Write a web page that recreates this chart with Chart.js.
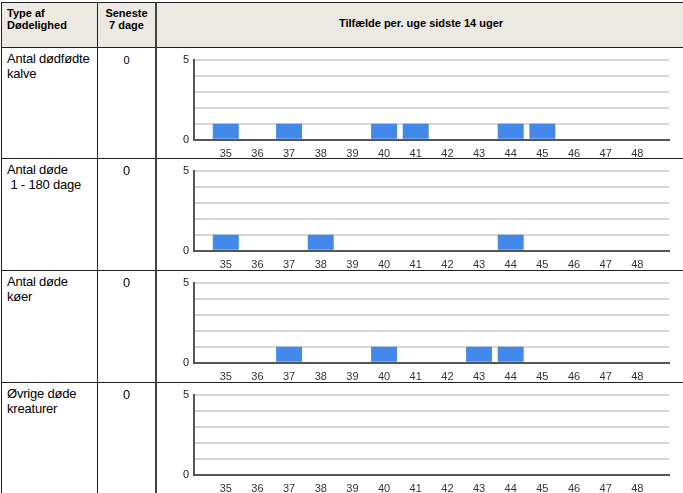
<!DOCTYPE html>
<html lang="da">
<head>
<meta charset="UTF-8" />
<script src="https://cdn.jsdelivr.net/npm/chart.js"></script>
<style>
  body { margin: 0; background: #fff; font-family: "Liberation Sans", Arial, sans-serif; overflow: hidden; }
  .cell { position: absolute; box-sizing: border-box; border: 1px solid #222; border-right: none; border-bottom: none; }
  .hd { background: #ebe9e1; font-size: 11px; font-weight: bold; }
  .txt { font-size: 13px; padding: 3px 0 0 5px; white-space: nowrap; letter-spacing: -0.2px; }
  .num { text-align: center; font-size: 13px; padding-top: 4px; }
  .chart { border-left: 2px solid #444; overflow: hidden; }
  canvas { position: absolute; left: 0; top: 0; }
</style>
</head>
<body>
<div id="grid"></div>
<script>
  const weeks = ['', '35', '36', '37', '38', '39', '40', '41', '42', '43', '44', '45', '46', '47', '48', ''];
  const doedfoedte = [null, 1, 0, 1, 0, 0, 1, 1, 0, 0, 1, 1, 0, 0, 0, null];
  const doede1til180 = [null, 1, 0, 0, 1, 0, 0, 0, 0, 0, 1, 0, 0, 0, 0, null];
  const doedeKoeer = [null, 0, 0, 1, 0, 0, 1, 0, 0, 1, 1, 0, 0, 0, 0, null];
  const oevrige = [null, 0, 0, 0, 0, 0, 0, 0, 0, 0, 0, 0, 0, 0, 0, null];
  const typeNames = ['Antal dødfødte<br>kalve', 'Antal døde<br>&nbsp;1 - 180 dage', 'Antal døde<br>køer', 'Øvrige døde<br>kreaturer'];
  const latest7 = ['0', '0', '0', '0'];
  const series = [doedfoedte, doede1til180, doedeKoeer, oevrige];

  const g = document.getElementById('grid');
  function cell(x, y, w, h, cls, html) {
    const d = document.createElement('div');
    d.className = 'cell ' + cls;
    Object.assign(d.style, { left: x + 'px', top: y + 'px', width: w + 'px', height: h + 'px' });
    d.innerHTML = html || '';
    g.appendChild(d);
    return d;
  }
  cell(1, 2, 96, 45, 'hd', '<div style="padding:4px 5px">Type af<br>Dødelighed</div>');
  cell(97, 2, 58, 45, 'hd', '<div style="text-align:center;padding-top:4px">Seneste<br>7 dage</div>');
  cell(155, 2, 540, 45, 'hd chart', '<div style="text-align:center;padding-top:14px;width:528px">Tilfælde per. uge sidste 14 uger</div>');

  const rowTops = [47, 158, 270, 382];
  series.forEach((vals, i) => {
    const y = rowTops[i], h = (rowTops[i + 1] || 494) - y;
    cell(1, y, 96, h, 'txt', typeNames[i]);
    cell(97, y, 58, h, 'num', '<span style="font-size:' + (i === 0 ? 11 : 13) + 'px">' + latest7[i] + '</span>');
    const c = cell(155, y, 540, h + 1, 'chart');
    const cv = document.createElement('canvas');
    cv.style.width = '526px'; cv.style.height = '113px';
    c.appendChild(cv);
    new Chart(cv, {
      type: 'bar',
      data: { labels: weeks, datasets: [{ data: vals, backgroundColor: '#4289ea', barPercentage: 0.82, categoryPercentage: 1 }] },
      options: {
        responsive: false, animation: false,
        layout: { padding: { left: 21, top: 0, right: 14, bottom: 0 } },
        plugins: { legend: { display: false }, tooltip: { enabled: false } },
        scales: {
          x: {
            offset: false,
            grid: { display: false, offset: false },
            border: { color: '#555', width: 2 },
            ticks: { color: '#333', font: { size: 11, family: 'Liberation Sans' }, maxRotation: 0, autoSkip: false, padding: 0 }
          },
          y: {
            min: 0, max: 5,
            grid: { color: '#d6d6d6', lineWidth: 2, drawTicks: false },
            border: { color: '#555', width: 2 },
            ticks: { stepSize: 1, autoSkip: false, padding: 5, color: '#222', font: { size: 11, family: 'Liberation Sans' },
                     callback: v => (v === 0 || v === 5) ? v : '' }
          }
        }
      }
    });
  });
</script>
</body>
</html>
